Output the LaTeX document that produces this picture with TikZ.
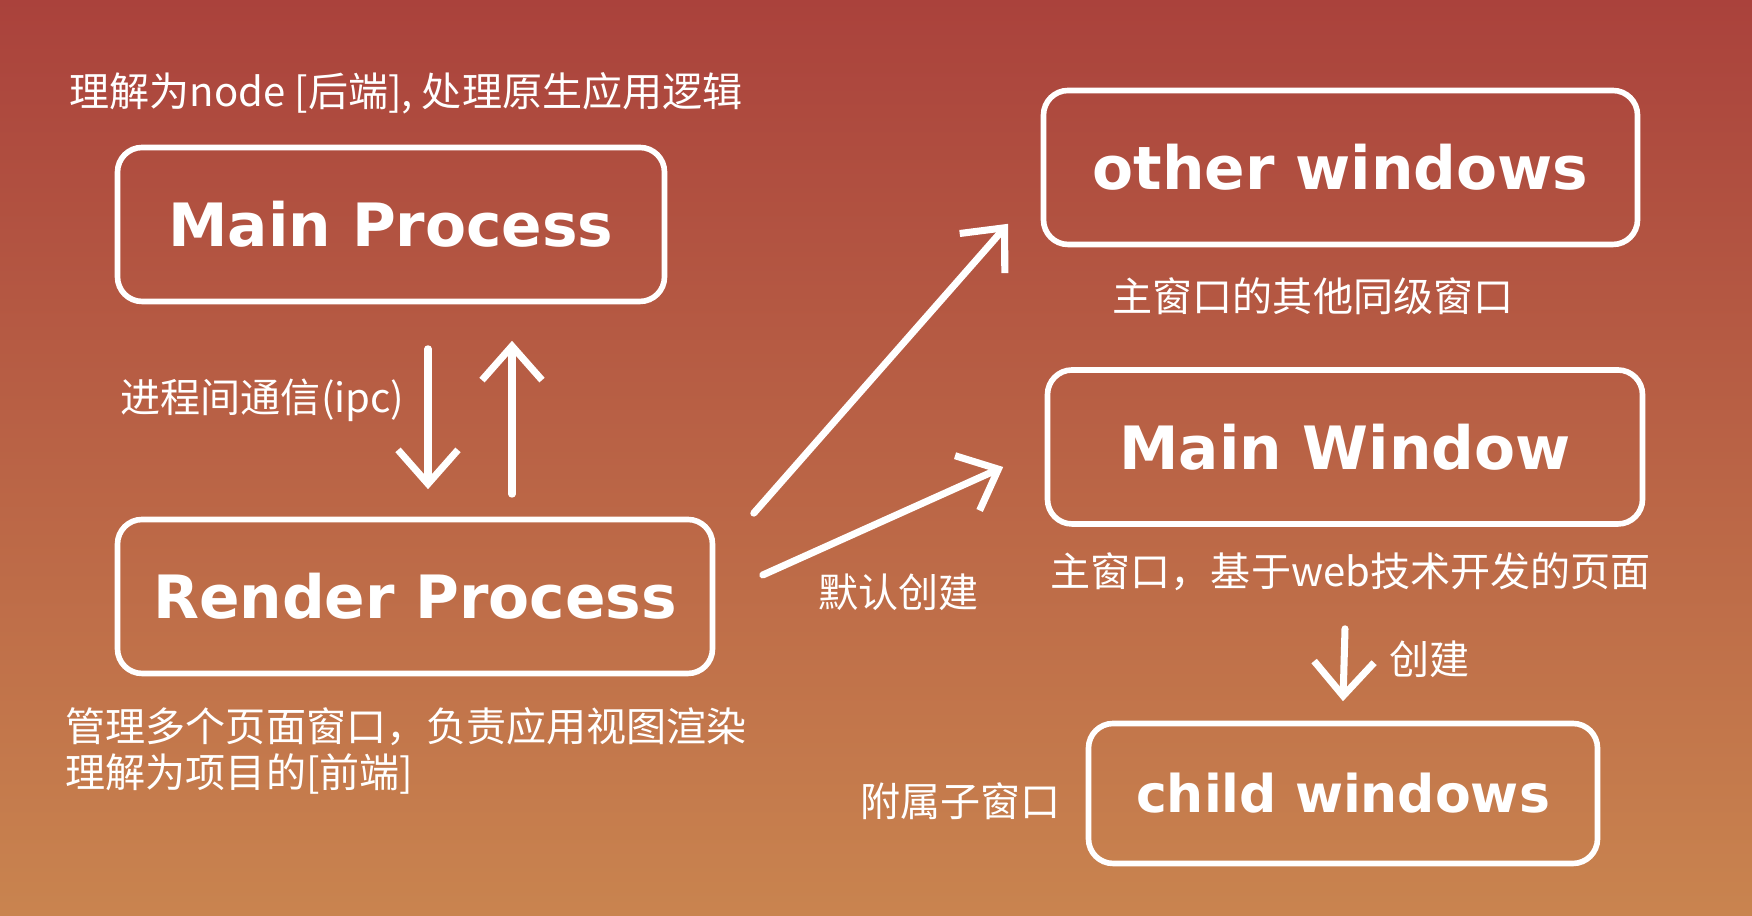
\documentclass[tikz,border=0pt]{standalone}
\usepackage{fontspec}
\usepackage{tikz}
\usetikzlibrary{arrows.meta, positioning, calc}
\newfontfamily\cjk{Noto Sans CJK SC}
\newfontfamily\chalkfont{DejaVu Sans}
\definecolor{bgtop}{RGB}{170,66,60}
\definecolor{bgmid}{RGB}{191,92,68}
\definecolor{bgbot}{RGB}{201,132,79}

\begin{document}
\begin{tikzpicture}[
  box/.style={draw=white, line width=1.6pt, rounded corners=7pt, minimum height=1.54cm, inner sep=0pt,
    text=white, font=\chalkfont\bfseries\fontsize{17}{20}\selectfont},
  lbl/.style={text=white, font=\cjk\fontsize{11.4}{13}\selectfont, anchor=west, inner sep=0pt},
  chalk/.style={draw=white, line width=2pt, line cap=round, -{Straight Barb[length=0.34cm, width=0.6cm, line width=2pt]}},
]
\shade[top color=bgtop, middle color=bgmid, bottom color=bgbot] (0,0) rectangle (17.52,9.16);

\node[box, minimum width=5.47cm] (MP) at (3.91,6.915)  {Main Process};
\node[box, minimum width=5.95cm] (RP) at (4.15,3.195)  {Render Process};
\node[box, minimum width=5.94cm] (OW) at (13.405,7.485) {other windows};
\node[box, minimum width=5.95cm] (MW) at (13.45,4.69)  {Main Window};
\node[box, minimum width=5.09cm, minimum height=1.40cm, font=\chalkfont\bfseries\fontsize{14.8}{18}\selectfont] (CW) at (13.43,1.225) {child windows};

\node[lbl] (t1) at (0.69,8.23) {理解为node [后端], 处理原生应用逻辑};
\node[lbl] (t2) at (1.20,5.16) {进程间通信(ipc)};
\node[lbl, align=left] (t3) at (0.65,1.65) {管理多个页面窗口，负责应用视图渲染\\理解为项目的[前端]};
\node[lbl] (t4) at (11.12,6.2)  {主窗口的其他同级窗口};
\node[lbl] (t5) at (10.50,3.44) {主窗口，基于web技术开发的页面};
\node[lbl] (t6) at (8.18,3.24)  {默认创建};
\node[lbl] (t7) at (13.89,2.57) {创建};
\node[lbl] (t8) at (8.60,1.15)  {附属子窗口};

\coordinate (dn) at ([xshift=0.37cm]MP.south);
\coordinate (up) at ([xshift=1.21cm]MP.south);
\draw[chalk, shorten <=0.445cm, shorten >=0.275cm] (dn) -- (dn |- RP.north);
\draw[chalk, shorten <=0.225cm, shorten >=0.365cm] (up |- RP.north) -- (up);
\draw[chalk] ([xshift=0.385cm,yshift=0.035cm]RP.north east) -- ([xshift=-0.325cm,yshift=0.235cm]OW.south west);
\draw[chalk] ([xshift=0.475cm,yshift=0.215cm]RP.east) -- ([xshift=-0.415cm,yshift=-0.2cm]MW.west);
\draw[chalk] ([yshift=-1.02cm]MW.south) -- ([yshift=0.195cm]CW.north);

\end{tikzpicture}
\end{document}
